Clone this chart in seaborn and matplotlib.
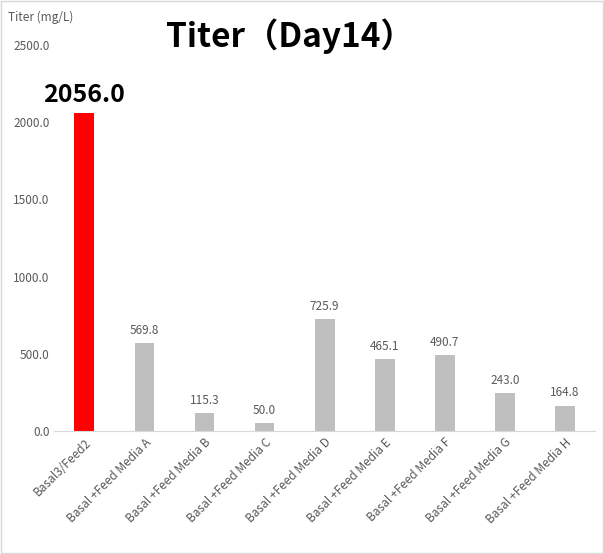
import matplotlib
matplotlib.use("Agg")
import matplotlib.pyplot as plt
import seaborn as sns
import pandas as pd

categories = ["Basal3/Feed2", "Basal +Feed Media A", "Basal +Feed Media B", "Basal +Feed Media C",
              "Basal +Feed Media D", "Basal +Feed Media E", "Basal +Feed Media F", "Basal +Feed Media G",
              "Basal +Feed Media H"]
values = [2056.0, 569.8, 115.3, 50.0, 725.9, 465.1, 490.7, 243.0, 164.8]
yticks = [0, 500, 1000, 1500, 2000, 2500]

plt.rcParams["font.family"] = ["Noto Sans CJK JP", "DejaVu Sans"]
df = pd.DataFrame({"cat": categories, "val": values})
colors = ["#ff0000"] + ["#bfbfbf"] * (len(values) - 1)

fig = plt.figure(figsize=(6.04, 5.54), dpi=100)
ax = fig.add_axes([0.09, 0.222, 0.895, 0.697])
sns.barplot(data=df, x="cat", y="val", hue="cat", palette=colors, legend=False, width=0.33, ax=ax, saturation=1)
ax.set_ylim(0, 2500)
ax.set_yticks(yticks)
ax.set_yticklabels([f"{t:.1f}" for t in yticks], color="#595959", fontsize=8.5)
ax.set_xticks(range(len(categories)))
ax.set_xticklabels(categories, rotation=45, ha="right", rotation_mode="anchor", color="#595959", fontsize=8.5)
ax.tick_params(length=0)
ax.set_xlabel(""); ax.set_ylabel("")
for s in ["top", "right", "left"]:
    ax.spines[s].set_visible(False)
ax.spines["bottom"].set_color("#d9d9d9")
for i, v in enumerate(values):
    if i == 0:
        ax.text(i, v + 40, f"{v:.1f}", ha="center", va="bottom", fontsize=18, fontweight="bold", color="black")
    else:
        ax.text(i, v + 40, f"{v:.1f}", ha="center", va="bottom", fontsize=8.5, color="#595959")
fig.text(0.48, 0.935, "Titer（Day14）", ha="center", va="center", fontsize=24, fontweight="bold")
fig.text(0.013, 0.968, "Titer (mg/L)", ha="left", va="center", fontsize=8.5, color="#595959")
fig.patches.append(plt.Rectangle((0.001, 0.001), 0.997, 0.997, transform=fig.transFigure,
                                 fill=False, edgecolor="#d9d9d9", linewidth=1))
fig.savefig("out.png", dpi=100)
